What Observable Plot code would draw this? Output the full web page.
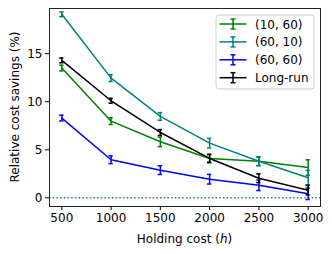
<!DOCTYPE html>
<html>
<head>
<meta charset="utf-8">
<script src="https://cdn.jsdelivr.net/npm/d3@7"></script>
<script src="https://cdn.jsdelivr.net/npm/@observablehq/plot@0.6"></script>
<style>
  html, body { margin: 0; padding: 0; background: white; }
  #chart svg, #chart svg text { font-family: "DejaVu Sans", sans-serif !important; }
  #chart svg text { font-size: 12px !important; }
</style>
</head>
<body>
<div id="chart"></div>
<script>
const holdingCost = [500, 1000, 1500, 2000, 2500, 3000];
const seriesNames = ["(10, 60)", "(60, 10)", "(60, 60)", "Long-run"];
const seriesColors = ["#008000", "#008080", "#0000ff", "#000000"];
const values = {
  "(10, 60)": [13.5, 7.98, 5.83, 4.09, 3.8, 3.16],
  "(60, 10)": [19.1, 12.46, 8.47, 5.69, 3.81, 2.1],
  "(60, 60)": [8.3, 3.96, 2.88, 1.94, 1.31, 0.42],
  "Long-run": [14.3, 10.1, 6.8, 4.1, 2.04, 0.8]
};
const errors = {
  "(10, 60)": [0.3, 0.35, 0.5, 0.45, 0.45, 0.8],
  "(60, 10)": [0.25, 0.35, 0.4, 0.5, 0.45, 0.75],
  "(60, 60)": [0.3, 0.4, 0.45, 0.5, 0.55, 0.6],
  "Long-run": [0.25, 0.25, 0.3, 0.4, 0.45, 0.5]
};
const xTicks = [500, 1000, 1500, 2000, 2500, 3000];
const yTicks = [0, 5, 10, 15];

(function () {
const rows = [];
seriesNames.forEach((s, si) => {
  holdingCost.forEach((h, i) => {
    rows.push({series: s, h, v: values[s][i], lo: values[s][i] - errors[s][i], hi: values[s][i] + errors[s][i], order: si});
  });
});

const capHalf = 22; // in data units of x
const marks = [
  Plot.ruleY([0], {stroke: "#1f77b4", strokeWidth: 1.5, strokeDasharray: "1.5,2.2"})
];
seriesNames.forEach((s, si) => {
  const d = rows.filter(r => r.series === s);
  const c = seriesColors[si];
  marks.push(Plot.line(d, {x: "h", y: "v", stroke: c, strokeWidth: 1.5}));
  marks.push(Plot.ruleX(d, {x: "h", y1: "lo", y2: "hi", stroke: c, strokeWidth: 1.5}));
  marks.push(Plot.ruleY(d, {y: "lo", x1: r => r.h - capHalf, x2: r => r.h + capHalf, stroke: c, strokeWidth: 1.5}));
  marks.push(Plot.ruleY(d, {y: "hi", x1: r => r.h - capHalf, x2: r => r.h + capHalf, stroke: c, strokeWidth: 1.5}));
});
marks.push(Plot.frame({stroke: "#222", strokeWidth: 1}));
marks.push(Plot.axisX({ticks: xTicks, tickSize: 4, tickPadding: 3, label: null, tickFormat: d => String(d)}));
marks.push(Plot.axisY({ticks: yTicks, tickSize: 4, tickPadding: 3, label: null}));

const plot = Plot.plot({
  width: 332,
  height: 254,
  marginLeft: 49,
  marginRight: 12,
  marginTop: 8,
  marginBottom: 48,
  style: {fontFamily: "DejaVu Sans, sans-serif", fontSize: "12px", color: "black", background: "white"},
  x: {domain: [375, 3125]},
  y: {domain: [-0.9, 19.7]},
  marks
});
document.getElementById("chart").appendChild(plot);

const svg = d3.select(plot);
const xs = plot.scale("x"), ys = plot.scale("y");
const pLeft = xs.range[0], pRight = xs.range[1];
const pTop = ys.range[1], pBottom = ys.range[0];

// x label with italic h
const xl = svg.append("text")
  .attr("x", (pLeft + pRight) / 2).attr("y", 243)
  .attr("text-anchor", "middle").attr("fill", "black");
xl.append("tspan").text("Holding cost (");
xl.append("tspan").attr("font-style", "italic").text("h");
xl.append("tspan").text(")");

// y label
svg.append("text")
  .attr("transform", `translate(19,${(pTop + pBottom) / 2}) rotate(-90)`)
  .attr("text-anchor", "middle").attr("fill", "black")
  .text("Relative cost savings (%)");

// legend
const lg = svg.append("g").attr("text-anchor", "start");
const lx = pRight - 104, ly = pTop + 7;
lg.append("rect").attr("x", lx).attr("y", ly).attr("width", 98).attr("height", 74)
  .attr("rx", 3).attr("fill", "white").attr("fill-opacity", 0.8).attr("stroke", "#d0d0d0").attr("stroke-width", 1);
seriesNames.forEach((s, i) => {
  const yy = ly + 9 + i * 17.9;
  const c = seriesColors[i];
  const x0 = lx + 3.5, x1 = lx + 30.5, xm = (x0 + x1) / 2;
  lg.append("line").attr("x1", x0).attr("x2", x1).attr("y1", yy).attr("y2", yy).attr("stroke", c).attr("stroke-width", 1.5);
  lg.append("line").attr("x1", xm).attr("x2", xm).attr("y1", yy - 5).attr("y2", yy + 5).attr("stroke", c).attr("stroke-width", 1.5);
  lg.append("line").attr("x1", xm - 2.5).attr("x2", xm + 2.5).attr("y1", yy - 5).attr("y2", yy - 5).attr("stroke", c).attr("stroke-width", 1.5);
  lg.append("line").attr("x1", xm - 2.5).attr("x2", xm + 2.5).attr("y1", yy + 5).attr("y2", yy + 5).attr("stroke", c).attr("stroke-width", 1.5);
  lg.append("text").attr("x", lx + 39).attr("y", yy + 4.5).attr("text-anchor", "start").attr("fill", "black").text(s);
});
})();
</script>
</body>
</html>
